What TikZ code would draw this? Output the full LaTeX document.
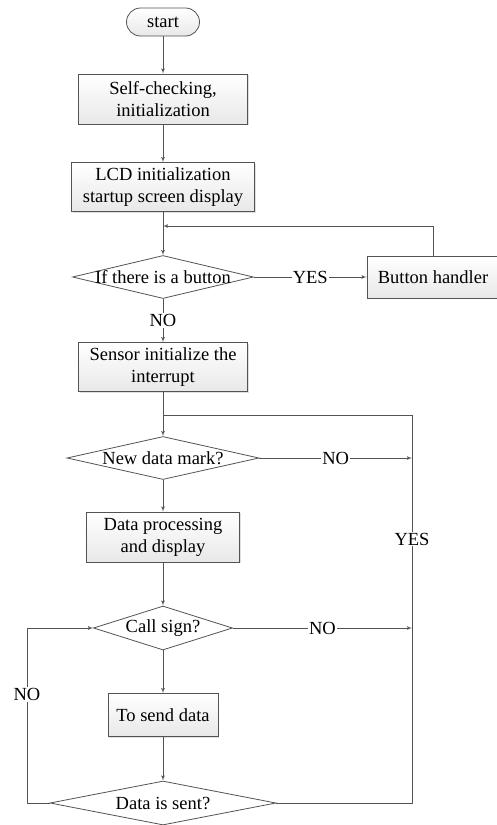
\documentclass[tikz,border=0pt]{standalone}
\usepackage{fontspec}
\setmainfont{Liberation Serif}
\usepackage{tikz}
\usetikzlibrary{arrows}
\usetikzlibrary{positioning}
\usetikzlibrary{shapes.geometric}
\usetikzlibrary{shadows}
\tikzset{
  block/.style={rectangle, draw=gray!65!black, top color=white,
    bottom color=gray!18, align=center, inner sep=0pt,
    drop shadow={opacity=0.25, shadow xshift=1.2pt, shadow yshift=-1.2pt}},
  decision/.style={diamond, draw=gray!65!black, fill=white, inner sep=0pt,
    minimum height=43pt},
  terminal/.style={rectangle, rounded corners=14pt, draw=gray!65!black,
    top color=white, bottom color=gray!18, minimum width=73pt,
    minimum height=28pt, inner sep=0pt},
  answer/.style={fill=white, inner sep=1pt}
}
\newcommand{\dtxt}[1]{\makebox[0pt]{#1}}

\begin{document}
\begin{tikzpicture}[->,>=latex',
      draw=gray!65!black,
      line width=0.8pt,
      on grid,
      node distance=88pt,
      font=\fontsize{18.5}{22}\selectfont]

    \path[use as bounding box] (0,0) rectangle (496pt,-825pt);

    \node[terminal]
      (Start) at (163pt,-22pt) {start};
    \node[block, minimum width=169pt, minimum height=50pt]
      (SelfCheck) [below=77pt of Start] {Self-checking,\\initialization};
    \node[block, minimum width=183pt, minimum height=49pt]
      (LcdInit) [below=88pt of SelfCheck] {LCD initialization\\startup screen display};
    \node[decision, minimum width=181pt]
      (IfButton) [below=90pt of LcdInit] {\dtxt{If there is a button}};
    \node[block, minimum width=132pt, minimum height=42pt]
      (Handler) [right=270pt of IfButton] {Button handler};
    \node[block, minimum width=169pt, minimum height=49pt]
      (SensorInit) [below=90pt of IfButton] {Sensor initialize the\\interrupt};
    \node[decision, minimum width=192pt]
      (NewData) [below=91pt of SensorInit] {\dtxt{New data mark?}};
    \node[block, minimum width=153pt, minimum height=50pt]
      (Process) [below=79pt of NewData] {Data processing\\and display};
    \node[decision, minimum width=139pt, minimum height=44pt]
      (CallSign) [below=91pt of Process] {\dtxt{Call sign?}};
    \node[block, minimum width=110pt, minimum height=43pt]
      (SendData) [below=87pt of CallSign] {To send data};
    \node[decision, minimum width=226pt, minimum height=44pt]
      (IsSent) [below=88pt of SendData] {\dtxt{Data is sent?}};

    \coordinate[below=39pt of LcdInit] (BackIn);
    \coordinate[below=48pt of SensorInit] (Split);
    \coordinate[right=249pt of Split] (RightTop);
    \coordinate[left=136pt of IsSent] (LeftBottom);

    \path
      (Start) edge (SelfCheck)
      (SelfCheck) edge (LcdInit)
      (LcdInit) edge (IfButton)
      (IfButton) edge node[answer] {YES} (Handler)
      (IfButton) edge node[answer] {NO} (SensorInit)
      (SensorInit) edge (NewData)
      (NewData) edge (Process)
      (Process) edge (CallSign)
      (CallSign) edge (SendData)
      (SendData) edge (IsSent);

    \draw (Handler.north) |- (BackIn);
    \draw[-] (Split) -- (RightTop);
    \draw[-] (IsSent.east) -| node[answer, pos=0.84] {YES} (RightTop);
    \draw (NewData.east) -- node[answer] {NO} (NewData.east -| RightTop);
    \draw (CallSign.east) -- node[answer] {NO} (CallSign.east -| RightTop);
    \draw[-] (IsSent.west) -- (LeftBottom);
    \draw (LeftBottom) |- node[answer, pos=0.31] {NO} (CallSign.west);

  \end{tikzpicture}
\end{document}
